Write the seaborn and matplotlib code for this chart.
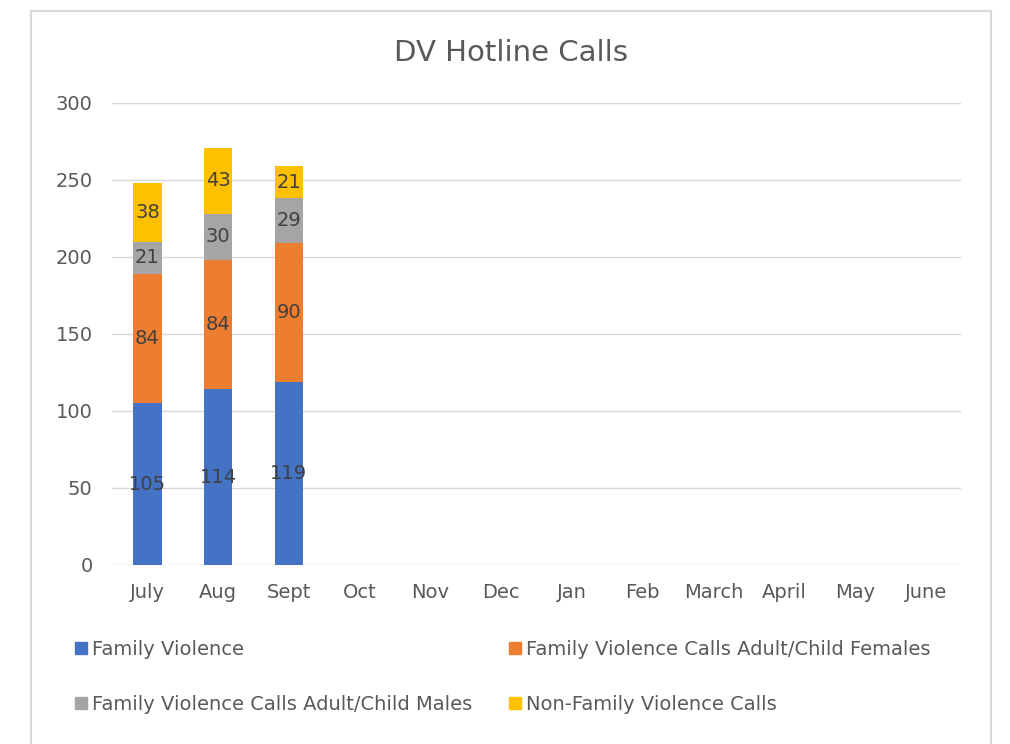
import matplotlib
matplotlib.use("Agg")
import matplotlib.pyplot as plt
import numpy as np
import pandas as pd
import seaborn as sns
from matplotlib.patches import Rectangle

months = ["July", "Aug", "Sept", "Oct", "Nov", "Dec", "Jan", "Feb", "March", "April", "May", "June"]
family_violence = [105, 114, 119] + [np.nan] * 9
fv_females = [84, 84, 90] + [np.nan] * 9
fv_males = [21, 30, 29] + [np.nan] * 9
non_family = [38, 43, 21] + [np.nan] * 9

series_names = [
    "Family Violence",
    "Family Violence Calls Adult/Child Females",
    "Family Violence Calls Adult/Child Males",
    "Non-Family Violence Calls",
]
colors = ["#4472C4", "#ED7D31", "#A5A5A5", "#FFC000"]
text_color = "#595959"

sns.set_theme(style="white")
plt.rcParams["font.family"] = ["DejaVu Sans"]

df = pd.DataFrame({
    "month": months,
    series_names[0]: family_violence,
    series_names[1]: fv_females,
    series_names[2]: fv_males,
    series_names[3]: non_family,
})
cum = df[series_names].cumsum(axis=1)

fig = plt.figure(figsize=(10.1, 7.44), dpi=100)
ax = fig.add_axes([0.1109, 0.2406, 0.8406, 0.621])

# overlap cumulative bars, tallest first, to get the stacked look
for name, color in reversed(list(zip(series_names, colors))):
    sns.barplot(x=df["month"], y=cum[name], order=months, color=color,
                width=0.4, saturation=1, ax=ax, label=name, linewidth=0)

# segment labels
for i, m in enumerate(months):
    for name in series_names:
        v = df.loc[i, name]
        if pd.isna(v):
            continue
        y = cum.loc[i, name] - v / 2
        ax.text(i, y, f"{int(v)}", ha="center", va="center",
                fontsize=14, color="#404040")

ax.set_ylim(0, 300)
ax.set_yticks(range(0, 301, 50))
ax.set_xlim(-0.5, len(months) - 0.5)
ax.set_xlabel("")
ax.set_ylabel("")
ax.grid(axis="y", color="#D9D9D9", linewidth=1)
ax.set_axisbelow(True)
for s in ax.spines.values():
    s.set_visible(False)
ax.tick_params(axis="y", length=0, pad=14, labelsize=14, labelcolor=text_color)
ax.tick_params(axis="x", length=0, pad=13, labelsize=14, labelcolor=text_color)
if ax.get_legend() is not None:
    ax.get_legend().remove()

fig.suptitle("DV Hotline Calls", x=0.506, y=0.948, fontsize=21, color=text_color)

leg_handles = [Rectangle((0, 0), 1, 1, color=c) for c in colors]
# ncol=2 fills column-wise, so reorder to get row-wise layout
idx = [0, 2, 1, 3]
fig.legend([leg_handles[k] for k in idx], [series_names[k] for k in idx],
           ncol=2, loc="upper left", bbox_to_anchor=(0.067, 0.15),
           frameon=False, fontsize=14, labelcolor=text_color,
           handlelength=0.6, handleheight=0.6, handletextpad=0.25,
           labelspacing=1.85, columnspacing=1.9, borderaxespad=0)

fig.add_artist(Rectangle((31 / 1010, -0.02), 960 / 1010, (744 - 11) / 744 + 0.02,
                         transform=fig.transFigure, fill=False,
                         edgecolor="#D9D9D9", linewidth=1.5))

fig.savefig("out.png", dpi=100)
